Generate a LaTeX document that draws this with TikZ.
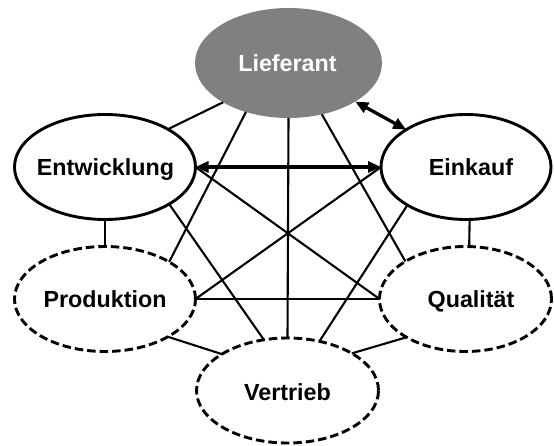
\documentclass[tikz,border=0pt]{standalone}
\usepackage{fontspec}
\setmainfont{Liberation Sans}
\usetikzlibrary{shapes.geometric,arrows.meta}

\definecolor{liefgray}{RGB}{128,128,128}

\tikzset{
  ell/.style={ellipse, inner sep=0pt, outer sep=0pt,
              minimum width=#1, minimum height=105pt},
  solidell/.style={ell=#1, draw=black, line width=2.9pt, fill=white},
  dashell/.style={ell=#1, draw=black, line width=2.9pt, fill=white,
                  dash pattern=on 8.5pt off 4pt},
  lbl/.style={anchor=base, inner sep=0pt, font=\fontsize{23.3}{28}\selectfont\bfseries},
  link/.style={line width=2.1pt, black},
  dbl/.style={line width=3.3pt, black,
              {Triangle[length=13pt,width=11pt]}-{Triangle[length=13pt,width=11pt]}}
}

\begin{document}
\begin{tikzpicture}[x=1pt,y=-1pt]
  \useasboundingbox (0,0) rectangle (554,446);

  % ellipses
  \node[ell=187pt, minimum height=110pt, fill=liefgray] (lief) at (288.5,63) {};
  \node[solidell=181pt] (ent)  at (105,167)   {};
  \node[solidell=170pt] (ein)  at (466,167)   {};
  \node[dashell=181pt]  (prod) at (105,299)   {};
  \node[dashell=172pt]  (qual) at (465.5,299) {};
  \node[dashell=182pt]  (vert) at (287.5,390.5) {};

  % labels
  \node[lbl, text=white] (liefT) at (287.5,71.5) {Lieferant};
  \node[lbl] (entT)  at (105.5,176) {Entwicklung};
  \node[lbl] (einT)  at (471,176)   {Einkauf};
  \node[lbl] (prodT) at (105,308)   {Produktion};
  \node[lbl] (qualT) at (471,308)   {Qualität};
  \node[lbl] (vertT) at (287.5,400) {Vertrieb};

  % plain connections
  \draw[link] (lief.211)   -- (ent.31);
  \draw[link] (lief.229.5) -- (prod.30);
  \draw[link] (lief.south) -- (vert.north);
  \draw[link] (lief.303)   -- (qual.148);
  \draw[link] (ent.south)  -- (prod.north);
  \draw[link] (ent.east)   -- (qual.west);
  \draw[link] (ent.-30)    -- (vert.115);
  \draw[link] (ein.west)   -- (prod.east);
  \draw[link] (ein.213)    -- (vert.57);
  \draw[link] (ein.-86)    -- (qual.86);
  \draw[link] (prod.east)  -- (qual.west);
  \draw[link] (prod.-31)   -- (vert.151);
  \draw[link] (qual.213)   -- (vert.30);

  % two-way connections
  \draw[dbl] (lief.-30.6) -- (ein.148);
  \draw[dbl] (ent.east)   -- (ein.west);
\end{tikzpicture}
\end{document}
